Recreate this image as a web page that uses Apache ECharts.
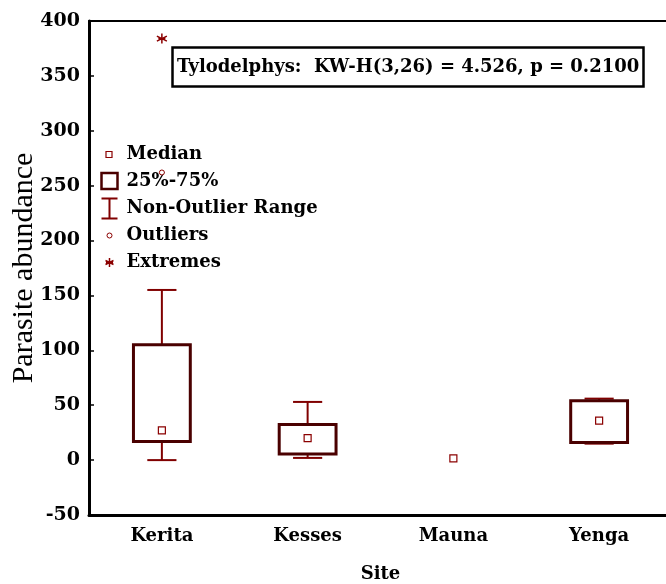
<!DOCTYPE html>
<html>
<head>
<meta charset="utf-8">
<script src="https://cdn.jsdelivr.net/npm/echarts@6/dist/echarts.min.js"></script>
<style>html,body{margin:0;padding:0;background:#fff}#c{width:666px;height:584px}</style>
</head>
<body>
<div id="c"></div>
<script>
const sites = ['Kerita', 'Kesses', 'Mauna', 'Yenga'];
const whiskerLow = [0, 2, null, 15];
const q1 = [17, 5.5, null, 16];
const medians = [27, 20, 1.5, 36];
const q3 = [105, 32.5, null, 54];
const whiskerHigh = [155, 53, null, 56];
const outliers = [['Kerita', 262]];
const extremes = [['Kerita', 384]];
const yTickValues = [-50, 0, 50, 100, 150, 200, 250, 300, 350, 400];
const annotation = 'Tylodelphys:  KW-H(3,26) = 4.526, p = 0.2100';

const boldFont = { fontFamily: 'DejaVu Serif', fontWeight: 'bold', color: '#000' };
const boxData = [];
sites.forEach((s, i) => {
  if (q1[i] !== null) boxData.push([i, whiskerLow[i], q1[i], q3[i], whiskerHigh[i]]);
});
const medianData = sites.map((s, i) => [s, medians[i]]);

const chart = echarts.init(document.getElementById('c'), null, { renderer: 'canvas' });
chart.setOption({
  animation: false,
  backgroundColor: '#fff',
  title: {
    text: annotation,
    left: 172, top: 47,
    padding: [11, 5],
    borderColor: '#000', borderWidth: 2.5,
    textStyle: Object.assign({ fontSize: 18 }, boldFont)
  },
  legend: {
    orient: 'vertical', left: 98, top: 141, padding: 0,
    itemWidth: 21, itemHeight: 22, itemGap: 0,
    selectedMode: false,
    textStyle: Object.assign({ fontSize: 18, lineHeight: 22 }, boldFont),
    data: [
      { name: 'Median', icon: 'path://M0 0M21 22M5.5 8h6v6h-6z',
        itemStyle: { color: 'none', borderColor: '#8b0000', borderWidth: 1.2 } },
      { name: '25%-75%', icon: 'path://M0 0M21 22M1 2.5h16v16h-16z',
        itemStyle: { color: 'none', borderColor: '#4a0000', borderWidth: 2.5 } },
      { name: 'Non-Outlier Range', icon: 'path://M0 0M21 22M1 1H17M9 1V21M1 21H17',
        itemStyle: { color: 'none', borderColor: '#800000', borderWidth: 2 } },
      { name: 'Outliers', icon: 'path://M0 0M21 22M11.5 11A2.5 2.5 0 1 1 6.5 11A2.5 2.5 0 1 1 11.5 11Z',
        itemStyle: { color: 'none', borderColor: '#8b0000', borderWidth: 1 } },
      { name: 'Extremes', icon: 'path://M0 0M21 22M9 6.5V15.5M5 9L13 13M13 9L5 13M5.5 11H12.5',
        itemStyle: { color: 'none', borderColor: '#8b0000', borderWidth: 1.5 } }
    ]
  },
  grid: { left: 89, top: 21, width: 583, height: 494, containLabel: false, outerBoundsMode: 'none' },
  xAxis: [{
    type: 'category', data: sites, position: 'bottom',
    boundaryGap: true,
    name: 'Site', nameLocation: 'middle', nameGap: 50,
    nameTextStyle: Object.assign({ fontSize: 18 }, boldFont),
    axisLine: { onZero: false, lineStyle: { color: '#000', width: 3 } },
    axisTick: { inside: true, length: 5, alignWithLabel: true, lineStyle: { color: '#000', width: 1.5 } },
    axisLabel: Object.assign({ fontSize: 18, margin: 12 }, boldFont),
    splitLine: { show: false }
  }, {
    type: 'category', data: sites, position: 'top',
    boundaryGap: true,
    axisLine: { onZero: false, lineStyle: { color: '#000', width: 2 } },
    axisTick: { inside: true, length: 5, alignWithLabel: true, lineStyle: { color: '#000', width: 1.5 } },
    axisLabel: { show: false },
    splitLine: { show: false }
  }],
  yAxis: {
    type: 'value',
    min: yTickValues[0], max: yTickValues[yTickValues.length - 1],
    interval: yTickValues[1] - yTickValues[0],
    name: 'Parasite abundance', nameLocation: 'middle', nameGap: 50,
    nameMoveOverlap: false,
    nameTextStyle: { fontFamily: 'Liberation Serif', fontSize: 30, lineHeight: 30, color: '#000' },
    axisLine: { show: true, onZero: false, lineStyle: { color: '#000', width: 3 } },
    axisTick: { show: true, inside: true, length: 5, lineStyle: { color: '#000', width: 1.5 } },
    axisLabel: Object.assign({ fontSize: 19, margin: 9 }, boldFont),
    splitLine: { show: false }
  },
  series: [
    {
      name: 'Non-Outlier Range', type: 'custom',
      itemStyle: { color: '#800000' },
      renderItem: function (params, api) {
        const i = api.value(0);
        const lo = api.coord([i, api.value(1)]);
        const b = api.coord([i, api.value(2)]);
        const t = api.coord([i, api.value(3)]);
        const hi = api.coord([i, api.value(4)]);
        const cw = api.size([1, 0])[0] * 0.2;
        const st = { stroke: '#800000', lineWidth: 2 };
        return { type: 'group', children: [
          { type: 'line', shape: { x1: lo[0], y1: lo[1], x2: b[0], y2: b[1] }, style: st },
          { type: 'line', shape: { x1: t[0], y1: t[1], x2: hi[0], y2: hi[1] }, style: st },
          { type: 'line', shape: { x1: lo[0] - cw / 2, y1: lo[1], x2: lo[0] + cw / 2, y2: lo[1] }, style: st },
          { type: 'line', shape: { x1: hi[0] - cw / 2, y1: hi[1], x2: hi[0] + cw / 2, y2: hi[1] }, style: st }
        ] };
      },
      encode: { x: 0, y: [1, 2, 3, 4] },
      data: boxData
    },
    {
      name: '25%-75%', type: 'custom',
      itemStyle: { color: '#4a0000' },
      renderItem: function (params, api) {
        const i = api.value(0);
        const b = api.coord([i, api.value(2)]);
        const t = api.coord([i, api.value(3)]);
        const bw = api.size([1, 0])[0] * 0.39;
        return { type: 'rect', shape: { x: b[0] - bw / 2, y: t[1], width: bw, height: b[1] - t[1] },
          style: { fill: '#fff', stroke: '#4a0000', lineWidth: 3 } };
      },
      encode: { x: 0, y: [1, 2, 3, 4] },
      data: boxData
    },
    {
      name: 'Median', type: 'scatter', symbol: 'rect', symbolSize: 7,
      itemStyle: { color: '#fff', borderColor: '#8b0000', borderWidth: 1.2, opacity: 1 },
      data: medianData, z: 5
    },
    {
      name: 'Outliers', type: 'scatter', symbol: 'circle', symbolSize: 5,
      itemStyle: { color: '#fff', borderColor: '#8b0000', borderWidth: 1, opacity: 1 },
      data: outliers, z: 5
    },
    {
      name: 'Extremes', type: 'scatter',
      symbol: 'path://M5 0V10M0 2.5L10 7.5M10 2.5L0 7.5M1.5 5H8.5', symbolSize: 10,
      itemStyle: { color: 'none', borderColor: '#8b0000', borderWidth: 1.5, opacity: 1 },
      data: extremes, z: 5
    }
  ]
});
</script>
</body>
</html>
